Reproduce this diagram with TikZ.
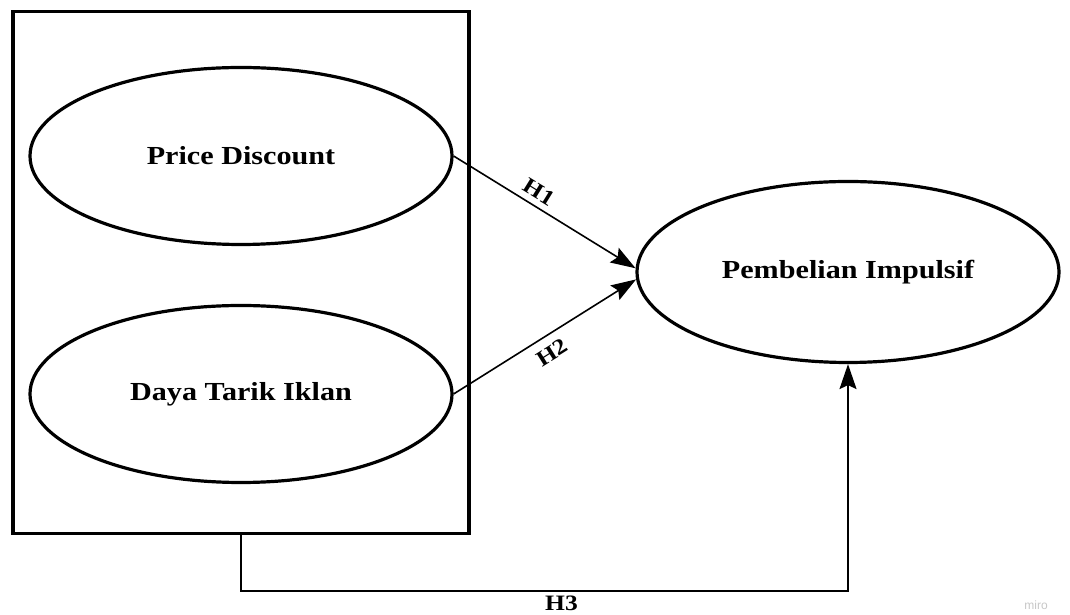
\documentclass[tikz,border=0pt]{standalone}
\usepackage{fontspec}
\setmainfont{Liberation Serif}[FakeStretch=1.16]
\newfontfamily\mirofont{Liberation Sans}
\usetikzlibrary{arrows.meta,shapes.geometric,calc}
\tikzset{
  latent/.style={ellipse, draw, line width=3.2pt, minimum width=422pt, minimum height=177pt, inner sep=0pt,
    font=\bfseries\fontsize{26}{30}\selectfont},
  framebox/.style={rectangle, draw, line width=3.5pt, minimum width=456pt, minimum height=522pt, inner sep=0pt},
  link/.style={line width=1.6pt, -{Stealth[length=25pt,width=17pt,inset=4pt]}},
  hlabel/.style={font=\bfseries\fontsize{22}{26}\selectfont, inner sep=0pt}
}
\begin{document}
\begin{tikzpicture}[x=1pt,y=1pt]
\useasboundingbox (0,0) rectangle (1070,615);
\node[framebox] (box) at (241,342.5) {};
\node[latent] (e1) at (241,459) {Price Discount};
\node[latent] (e2) at (241,221) {Daya Tarik Iklan};
\node[latent, minimum height=181pt] (e3) at (848,343) {Pembelian Impulsif};
\draw[link] (e1.east) -- node[hlabel, pos=0.43, sloped, above=6pt] {H1} (e3.179.5);
\draw[link] (e2.east) -- node[hlabel, pos=0.49, sloped, below=9pt] {H2} (e3.182);
\coordinate (c1) at (241,24);
\draw[link] (box.south) -- (c1) -| node[hlabel, pos=0.264, below=4pt] {H3} (e3.south);
\node[font=\mirofont\fontsize{12}{14}\selectfont, text=black!22, inner sep=0pt] (miro) at (1036,10) {miro};
\end{tikzpicture}
\end{document}
